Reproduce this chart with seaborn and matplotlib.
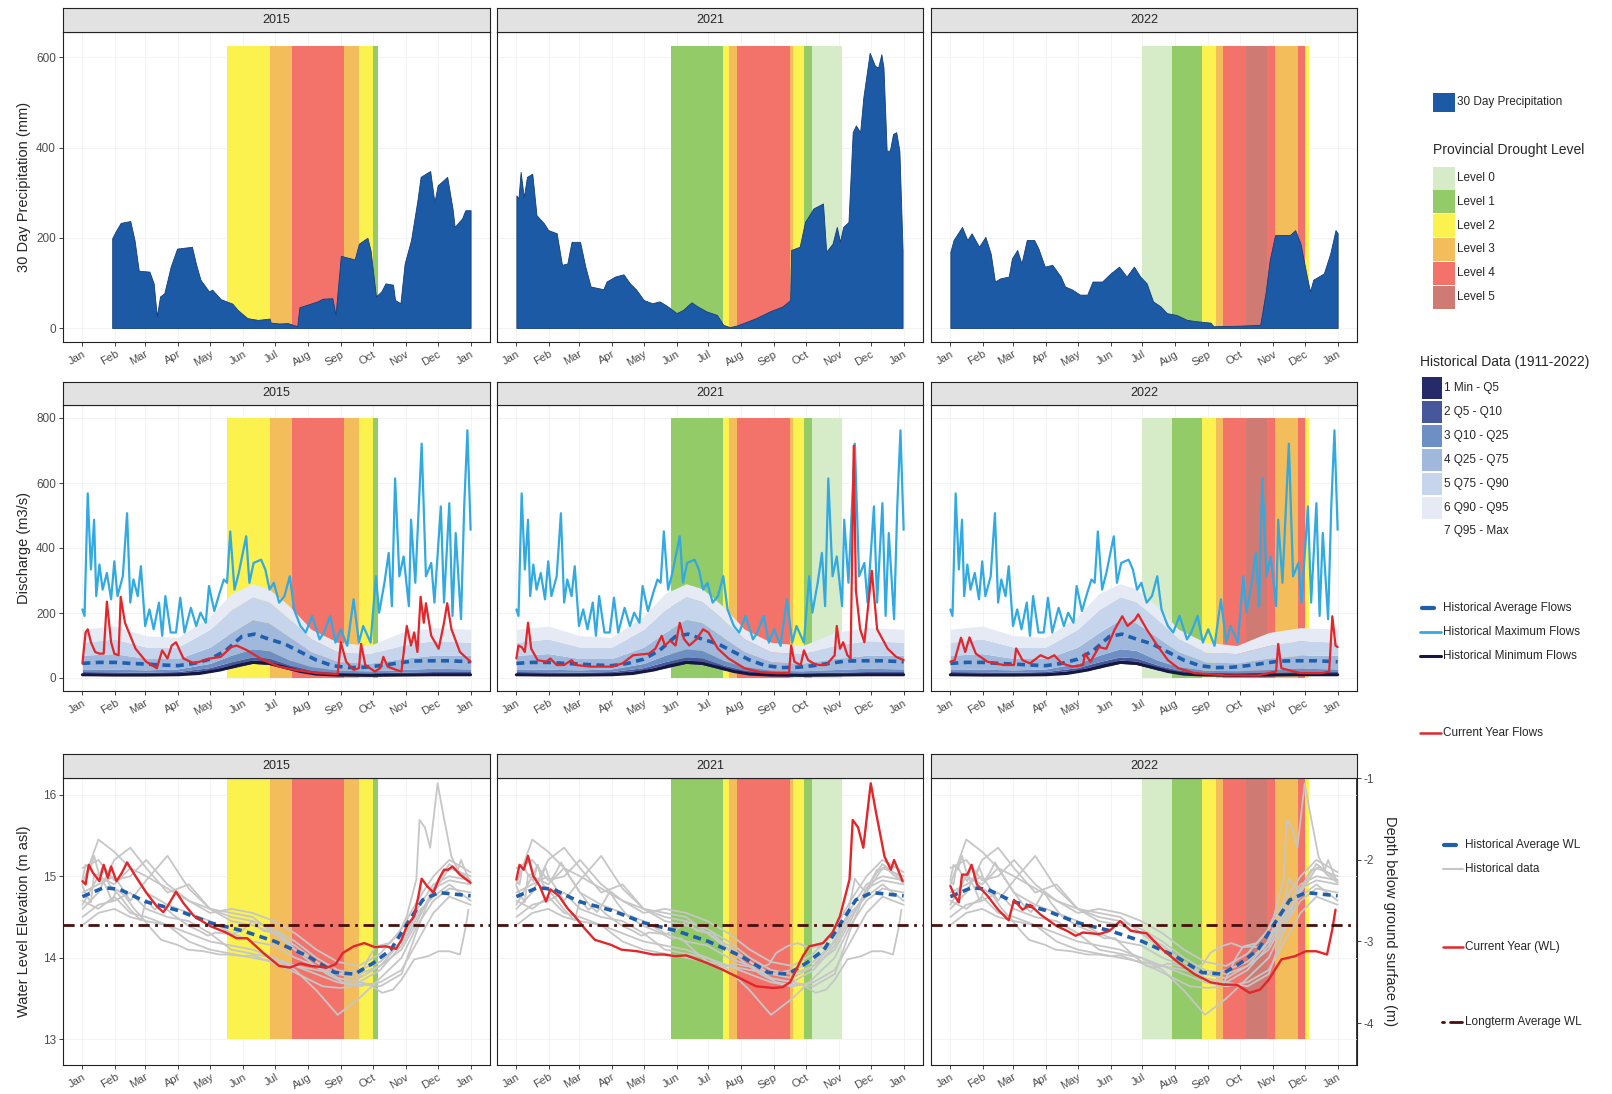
import numpy as np
import pandas as pd
import matplotlib
matplotlib.use("Agg")
import matplotlib.pyplot as plt
from matplotlib.patches import Rectangle
import seaborn as sns

sns.set_theme(style="ticks")
plt.rcParams['font.family'] = ['Liberation Sans', 'DejaVu Sans']
plt.rcParams['axes.unicode_minus'] = False

# ---------------------------------------------------------------- data
PANEL_YEARS = ["2015", "2021", "2022"]
MONTH_TICKS = [0, 31, 59, 90, 120, 151, 181, 212, 243, 273, 304, 334, 365]
MONTH_LABELS = ["Jan", "Feb", "Mar", "Apr", "May", "Jun", "Jul", "Aug",
                "Sep", "Oct", "Nov", "Dec", "Jan"]

DROUGHT_LEVELS = ["Level 0", "Level 1", "Level 2", "Level 3", "Level 4", "Level 5"]
DROUGHT_COLORS = ["#d6ecc9", "#93cb68", "#fbf24f", "#f4bd5b", "#f3736b", "#cf7b73"]

DR15_START = [136, 176, 197, 246, 260, 273]
DR15_END = [176, 197, 246, 260, 273, 278]
DR15_LEVEL = [2, 3, 4, 3, 2, 1]
DR21_START = [146, 195, 200, 208, 258, 261, 271, 279]
DR21_END = [195, 200, 208, 258, 261, 271, 279, 307]
DR21_LEVEL = [1, 2, 3, 4, 3, 2, 1, 0]
DR22_START = [181, 209, 237, 250, 257, 279, 298, 306, 328, 334]
DR22_END = [209, 237, 250, 257, 279, 298, 306, 328, 334, 338]
DR22_LEVEL = [0, 1, 2, 3, 4, 5, 4, 3, 4, 2]

# 30 day precipitation (mm)
P15_D = [28, 31, 36, 45, 49, 53, 63, 67, 70, 73, 77, 83, 89, 103, 107, 111, 119, 122, 130, 141,
         146, 155, 165, 176, 177, 185, 193, 202, 204, 221, 226, 235, 238, 243, 256, 260, 268, 271, 276, 281,
         285, 292, 294, 299, 303, 309, 315, 318, 327, 331, 334, 343, 348, 350, 357, 360, 365]
P15_V = [199, 213, 233, 237, 195, 127, 125, 99, 26, 70, 77, 136, 176, 180, 140, 107, 81, 85, 64, 54,
         40, 22, 18, 21, 12, 10, 11, 4, 46, 59, 65, 66, 29, 160, 152, 187, 200, 171, 70, 81,
         99, 96, 62, 55, 143, 195, 283, 335, 348, 279, 316, 335, 265, 224, 243, 261, 261]
P21_D = [0, 2, 4, 7, 10, 15, 19, 26, 30, 38, 43, 48, 52, 60, 65, 70, 82, 85, 93, 101,
         107, 113, 120, 128, 135, 142, 151, 157, 165, 170, 179, 189, 195, 201, 207, 214, 226, 239, 251, 258,
         259, 267, 272, 280, 289, 292, 298, 302, 305, 308, 313, 317, 320, 324, 327, 331, 333, 338, 341, 344,
         346, 349, 352, 355, 358, 361, 364]
P21_V = [294, 287, 346, 290, 335, 342, 250, 232, 217, 210, 140, 143, 191, 191, 136, 92, 86, 103, 114, 119,
         99, 85, 62, 55, 59, 49, 33, 40, 57, 49, 37, 29, 7, 2, 5, 11, 22, 37, 48, 62,
         173, 180, 235, 265, 276, 169, 187, 224, 191, 224, 235, 434, 449, 434, 511, 577, 610, 581, 577, 607,
         577, 393, 393, 430, 434, 393, 173]
P22_D = [0, 3, 11, 16, 20, 27, 33, 38, 42, 47, 55, 58, 63, 67, 72, 79, 83, 89, 96, 104,
         108, 115, 122, 129, 134, 143, 151, 159, 166, 173, 179, 185, 191, 198, 204, 213, 223, 232, 245, 248,
         270, 292, 297, 301, 306, 320, 325, 330, 336, 339, 342, 352, 358, 363, 365]
P22_V = [169, 195, 224, 195, 210, 180, 202, 165, 103, 110, 114, 154, 173, 143, 195, 195, 176, 136, 140, 114,
         92, 85, 74, 74, 103, 103, 121, 136, 114, 136, 114, 99, 59, 48, 33, 29, 18, 15, 12, 4,
         5, 7, 77, 151, 206, 206, 217, 187, 114, 81, 107, 121, 165, 217, 210]

# historical discharge statistics (m3/s)
Q_DAYS = [0, 30, 60, 90, 120, 140, 160, 175, 195, 215, 240, 270, 300, 330, 365]
Q_MIN = [10, 10, 10, 12, 18, 30, 45, 42, 25, 14, 10, 9, 10, 11, 10]
Q_05 = [16, 15, 14, 16, 25, 40, 55, 52, 32, 18, 13, 12, 14, 15, 16]
Q_10 = [20, 19, 18, 20, 32, 50, 65, 62, 40, 24, 17, 16, 18, 20, 20]
Q_25 = [28, 27, 25, 28, 45, 70, 90, 85, 55, 35, 24, 22, 26, 30, 28]
Q_75 = [70, 75, 60, 60, 95, 140, 180, 170, 125, 80, 50, 45, 60, 70, 70]
Q_90 = [110, 120, 95, 95, 150, 210, 250, 235, 180, 120, 80, 75, 100, 115, 110]
Q_95 = [150, 160, 130, 125, 190, 260, 290, 275, 220, 150, 110, 100, 140, 155, 150]
Q_BAND_LABELS = ["1 Min - Q5", "2 Q5 - Q10", "3 Q10 - Q25", "4 Q25 - Q75",
                 "5 Q75 - Q90", "6 Q90 - Q95", "7 Q95 - Max"]
Q_BAND_COLORS = ["#262a66", "#47579c", "#6d8fc4", "#9fb8dc", "#c6d5ec", "#e5eaf4", "#ffffff"]

MAXQ_D = [0, 2, 5, 8, 11, 13, 16, 19, 23, 27, 30, 33, 38, 42, 45, 48, 52, 55, 59, 63,
          67, 72, 75, 78, 83, 88, 92, 96, 102, 107, 111, 116, 119, 124, 129, 133, 136, 139, 143, 147,
          154, 157, 161, 168, 172, 176, 180, 185, 190, 195, 199, 205, 210, 216, 223, 227, 233, 238, 243, 249,
          255, 260, 264, 271, 276, 279, 284, 288, 291, 294, 298, 302, 307, 309, 313, 319, 323, 328, 331, 337,
          340, 345, 348, 351, 356, 359, 362, 365]
MAXQ_V = [211, 191, 568, 334, 487, 252, 349, 272, 323, 242, 359, 252, 313, 507, 232, 303, 252, 344, 160, 211,
          150, 232, 130, 252, 140, 140, 247, 140, 216, 160, 201, 170, 283, 206, 262, 303, 293, 451, 272, 323,
          436, 293, 354, 364, 334, 272, 293, 232, 252, 313, 211, 160, 140, 191, 119, 140, 191, 109, 150, 99,
          242, 109, 160, 109, 313, 201, 293, 385, 221, 614, 313, 374, 221, 487, 293, 721, 313, 354, 232, 528,
          232, 538, 191, 446, 181, 528, 762, 456]
MEANQ_D = [0, 15, 31, 45, 59, 75, 90, 105, 120, 135, 150, 162, 175, 190, 205, 220, 235, 250, 265, 280,
           295, 310, 325, 345, 365]
MEANQ_V = [45, 48, 48, 45, 43, 40, 38, 45, 58, 85, 128, 135, 120, 105, 80, 55, 38, 32, 33, 38,
           45, 52, 53, 53, 50]
MINQ_D = [0, 30, 60, 90, 110, 130, 145, 160, 175, 190, 205, 220, 240, 270, 300, 330, 365]
MINQ_V = [10, 9, 9, 10, 14, 25, 38, 48, 45, 33, 20, 12, 9, 8, 9, 10, 10]

# current year flows (m3/s)
F15_D = [0, 3, 5, 8, 12, 16, 20, 23, 27, 30, 34, 36, 40, 50, 60, 70, 75, 80, 84, 88,
         95, 105, 120, 130, 140, 145, 155, 170, 185, 200, 220, 240, 243, 248, 255, 260, 262, 266, 275, 280,
         283, 287, 295, 300, 305, 309, 312, 315, 318, 321, 323, 328, 335, 340, 343, 347, 355, 365]
F15_V = [45, 140, 150, 110, 80, 75, 75, 235, 110, 75, 70, 250, 170, 90, 50, 30, 85, 60, 100, 110,
         60, 45, 60, 65, 95, 100, 85, 55, 35, 25, 15, 12, 110, 50, 25, 30, 105, 40, 20, 30,
         65, 35, 25, 20, 160, 100, 140, 80, 250, 170, 230, 130, 90, 170, 230, 150, 80, 50]
F21_D = [0, 2, 5, 8, 11, 14, 20, 28, 32, 38, 45, 52, 56, 70, 90, 100, 110, 125, 131, 137,
         140, 145, 150, 154, 158, 163, 170, 176, 181, 190, 200, 215, 230, 245, 257, 259, 262, 268, 271, 275,
         280, 285, 292, 300, 302, 305, 308, 312, 315, 318, 320, 324, 328, 335, 340, 350, 358, 365]
F21_V = [60, 100, 95, 80, 170, 90, 55, 50, 60, 40, 40, 55, 40, 35, 35, 45, 70, 75, 90, 130,
         100, 115, 100, 170, 120, 100, 120, 150, 140, 90, 60, 30, 18, 15, 15, 100, 50, 40, 85, 55,
         45, 40, 40, 70, 160, 90, 110, 70, 60, 715, 270, 150, 110, 330, 150, 90, 65, 55]
F22_D = [0, 4, 10, 14, 18, 24, 35, 50, 60, 62, 68, 75, 85, 92, 98, 105, 115, 125, 127, 132,
         140, 147, 155, 162, 167, 174, 177, 185, 195, 205, 215, 230, 260, 290, 300, 307, 309, 312, 330, 350,
         357, 360, 363, 365]
F22_V = [50, 55, 124, 80, 125, 75, 50, 40, 40, 91, 55, 45, 70, 60, 70, 45, 35, 40, 75, 50,
         95, 90, 150, 190, 160, 180, 196, 150, 100, 55, 30, 15, 8, 8, 15, 20, 105, 30, 15, 15,
         20, 190, 100, 95]

# water levels (m asl)
GREY_DAYS = [0, 15, 30, 45, 60, 80, 100, 120, 140, 160, 180, 200, 220, 240, 260, 280, 300, 315, 330, 345, 365]
WL_2012 = [14.9, 15.45, 15.3, 15.1, 15.0, 14.85, 14.7, 14.6, 14.5, 14.45, 14.35, 14.2, 14.0, 13.85, 13.8, 13.9, 14.2, 14.6, 14.9, 15.0, 14.95]
WL_2013 = [14.6, 14.8, 15.2, 15.35, 15.1, 14.8, 14.9, 14.6, 14.55, 14.5, 14.3, 14.15, 13.95, 13.75, 13.7, 13.85, 14.15, 14.5, 14.8, 15.1, 15.0]
WL_2014 = [14.7, 14.6, 14.75, 14.55, 14.5, 14.4, 14.3, 14.2, 14.15, 14.1, 14.0, 13.85, 13.6, 13.3, 13.5, 13.75, 14.0, 14.4, 14.7, 14.85, 14.8]
WL_2016 = [14.5, 14.65, 14.7, 14.8, 14.6, 14.5, 14.45, 14.3, 14.1, 14.05, 14.0, 13.9, 13.8, 13.7, 13.65, 13.7, 13.85, 14.2, 14.55, 14.75, 14.65]
WL_2017 = [15.1, 15.2, 14.95, 15.0, 15.2, 14.9, 14.7, 14.55, 14.6, 14.55, 14.45, 14.3, 14.1, 13.95, 13.9, 14.05, 14.35, 14.7, 15.0, 15.2, 15.05]
WL_2018 = [14.8, 14.9, 15.0, 14.7, 14.95, 15.25, 14.85, 14.6, 14.45, 14.4, 14.3, 14.1, 13.95, 13.8, 13.75, 13.9, 14.1, 14.45, 14.85, 15.15, 14.95]
WL_2019 = [14.4, 14.55, 14.6, 14.5, 14.45, 14.4, 14.2, 14.1, 14.05, 14.0, 13.95, 13.9, 13.85, 13.8, 13.85, 13.95, 14.2, 14.55, 14.75, 14.9, 14.7]
WL_2020 = [14.65, 15.0, 14.9, 15.1, 14.8, 14.65, 14.55, 14.45, 14.3, 14.2, 14.15, 14.0, 13.9, 13.75, 13.7, 13.65, 13.8, 14.35, 14.85, 14.95, 14.9]

WL15_D = [0, 3, 6, 10, 16, 20, 24, 27, 32, 37, 42, 50, 60, 70, 76, 80, 88, 95, 105, 120,
          135, 145, 155, 170, 185, 195, 205, 215, 230, 238, 245, 255, 265, 275, 285, 295, 300, 305, 312, 316,
          319, 324, 330, 335, 340, 344, 348, 355, 365]
WL15_V = [14.94, 14.9, 15.14, 15.04, 14.94, 15.14, 14.98, 15.12, 14.94, 15.04, 15.17, 15.0, 14.8, 14.63, 14.56, 14.63, 14.81, 14.67, 14.51, 14.39,
          14.31, 14.24, 14.24, 14.06, 13.9, 13.88, 13.93, 13.9, 13.88, 13.92, 14.06, 14.14, 14.18, 14.13, 14.14, 14.11, 14.22, 14.39, 14.51, 14.76,
          14.97, 14.88, 14.8, 14.96, 15.08, 15.08, 15.12, 15.02, 14.92]
WL21_D = [0, 3, 7, 11, 16, 22, 28, 32, 40, 48, 55, 65, 74, 89, 99, 114, 129, 139, 150, 160,
          179, 195, 209, 226, 242, 251, 258, 270, 276, 289, 298, 305, 314, 317, 322, 327, 334, 339, 347, 353,
          356, 364]
WL21_V = [14.96, 15.14, 15.08, 15.25, 15.0, 14.88, 14.69, 14.84, 14.76, 14.61, 14.51, 14.35, 14.22, 14.16, 14.1, 14.08, 14.04, 14.04, 14.02, 14.03,
          13.94, 13.85, 13.76, 13.65, 13.63, 13.64, 13.7, 14.02, 14.14, 14.18, 14.31, 14.51, 14.96, 15.69, 15.6, 15.35, 16.14, 15.78, 15.24, 15.08,
          15.2, 14.94]
WL22_D = [0, 4, 8, 11, 16, 20, 25, 35, 45, 55, 60, 68, 75, 85, 100, 110, 118, 125, 140, 150,
          160, 170, 185, 200, 215, 230, 245, 258, 270, 282, 292, 300, 312, 325, 335, 345, 355, 360, 363]
WL22_V = [14.88, 14.76, 14.68, 15.02, 15.02, 15.14, 14.9, 14.76, 14.59, 14.46, 14.71, 14.59, 14.65, 14.53, 14.39, 14.33, 14.27, 14.31, 14.29, 14.33,
          14.45, 14.33, 14.3, 14.1, 13.94, 13.8, 13.7, 13.67, 13.67, 13.57, 13.61, 13.73, 13.98, 14.02, 14.08, 14.08, 14.04, 14.35, 14.59]

WL_AVG_D = [0, 20, 35, 59, 90, 120, 151, 181, 212, 237, 256, 274, 290, 304, 320, 335, 365]
WL_AVG_V = [14.75, 14.86, 14.84, 14.69, 14.58, 14.43, 14.33, 14.2, 14.02, 13.82, 13.8, 13.94, 14.1, 14.39, 14.71, 14.8, 14.76]
LONGTERM_AVG_WL = 14.4
DEPTH_OFFSET = 17.2

# -------------------------------------------------------------- assemble
DROUGHT = {"2015": (DR15_START, DR15_END, DR15_LEVEL),
           "2021": (DR21_START, DR21_END, DR21_LEVEL),
           "2022": (DR22_START, DR22_END, DR22_LEVEL)}
PRECIP = {"2015": (P15_D, P15_V), "2021": (P21_D, P21_V), "2022": (P22_D, P22_V)}
FLOWS = {"2015": (F15_D, F15_V), "2021": (F21_D, F21_V), "2022": (F22_D, F22_V)}
WL_ALL = {"2012": (GREY_DAYS, WL_2012), "2013": (GREY_DAYS, WL_2013), "2014": (GREY_DAYS, WL_2014),
          "2015": (WL15_D, WL15_V), "2016": (GREY_DAYS, WL_2016), "2017": (GREY_DAYS, WL_2017),
          "2018": (GREY_DAYS, WL_2018), "2019": (GREY_DAYS, WL_2019), "2020": (GREY_DAYS, WL_2020),
          "2021": (WL21_D, WL21_V), "2022": (WL22_D, WL22_V)}
Q_LEVELS = [Q_MIN, Q_05, Q_10, Q_25, Q_75, Q_90, Q_95]

PRECIP_COLOR = "#1d5aa6"
MAXQ_COLOR = "#31a9e1"
MINQ_COLOR = "#151842"
AVG_COLOR = "#1f5fad"
CUR_COLOR = "#e2262a"
GREY_COLOR = "#c6c6c6"
LT_COLOR = "#4a0e0e"
TICK_COLOR = "#4d4d4d"

# -------------------------------------------------------------- layout
W, H = 1612, 1094
fig = plt.figure(figsize=(W / 100, H / 100), dpi=100)
COL_PX = [(63, 490), (497, 923), (931, 1357)]
ROW_PX = [(8, 32, 342), (382, 405, 691), (754, 778, 1065)]
XLIM = (-18.25, 383.25)
YLIMS = [(-31, 656), (-40, 840), (12.685, 16.205)]
YTICKS = [[0, 200, 400, 600], [0, 200, 400, 600, 800], [13, 14, 15, 16]]
BAND_Y = [(0, 625), (0, 800), (13, 16.205)]
YLABELS = ["30 Day Precipitation (mm)", "Discharge (m3/s)", "Water Level Elevation (m asl)"]


def px_axes(x0, y0, x1, y1, **kw):
    return fig.add_axes([x0 / W, 1 - y1 / H, (x1 - x0) / W, (y1 - y0) / H], **kw)


def style_panel(ax, r, c):
    ax.set_xlim(*XLIM)
    ax.set_ylim(*YLIMS[r])
    ax.set_xticks(MONTH_TICKS)
    ax.set_xticklabels(MONTH_LABELS, rotation=30, ha="right", va="top",
                       rotation_mode="anchor", fontsize=8, color=TICK_COLOR)
    ax.set_yticks(YTICKS[r])
    if c == 0:
        ax.set_yticklabels([str(t) for t in YTICKS[r]], fontsize=8.5, color=TICK_COLOR)
        ax.tick_params(axis="y", left=True, length=3, width=0.6, pad=2)
    else:
        ax.tick_params(axis="y", left=False, labelleft=False)
    ax.tick_params(axis="x", bottom=True, length=3, width=0.6, pad=2)
    for sp in ax.spines.values():
        sp.set_visible(True)
        sp.set_color("#222222")
        sp.set_linewidth(0.8)
    ax.grid(True, color="#efefef", lw=0.5)
    ax.set_axisbelow(True)
    ax.set_xlabel("")
    ax.set_ylabel("")


def draw_drought(ax, year, r):
    y0, y1 = BAND_Y[r]
    for s, e, lev in zip(*DROUGHT[year]):
        ax.fill_between([s, e], [y0, y0], [y1, y1], color=DROUGHT_COLORS[lev], lw=0, zorder=1)


def line(ax, d, v, color, lw, z, ls="-"):
    sns.lineplot(x=d, y=v, ax=ax, color=color, linewidth=lw, linestyle=ls,
                 errorbar=None, legend=False, zorder=z)


for r, (s_top, p_top, p_bot) in enumerate(ROW_PX):
    for c, (x0, x1) in enumerate(COL_PX):
        year = PANEL_YEARS[c]
        ax = px_axes(x0, p_top, x1, p_bot)
        draw_drought(ax, year, r)
        if r == 0:
            d, v = PRECIP[year]
            ax.fill_between(d, 0, v, color=PRECIP_COLOR, lw=0.6, edgecolor="#123f7a", zorder=3)
        elif r == 1:
            for i in range(len(Q_LEVELS) - 1):
                ax.fill_between(Q_DAYS, Q_LEVELS[i], Q_LEVELS[i + 1],
                                color=Q_BAND_COLORS[i], lw=0, zorder=2)
            line(ax, MAXQ_D, MAXQ_V, MAXQ_COLOR, 1.6, 3)
            line(ax, MINQ_D, MINQ_V, MINQ_COLOR, 2.2, 3)
            line(ax, MEANQ_D, MEANQ_V, AVG_COLOR, 2.6, 4, ls=(0, (2.2, 1.5)))
            d, v = FLOWS[year]
            line(ax, d, v, CUR_COLOR, 1.6, 5)
        else:
            for yy, (d, v) in WL_ALL.items():
                if yy != year:
                    line(ax, d, v, GREY_COLOR, 1.3, 2)
            line(ax, WL_AVG_D, WL_AVG_V, AVG_COLOR, 2.6, 4, ls=(0, (2.2, 1.5)))
            d, v = WL_ALL[year]
            line(ax, d, v, CUR_COLOR, 1.7, 5)
            ax.axhline(LONGTERM_AVG_WL, color=LT_COLOR, lw=2, ls=(0, (4, 2, 1, 2)), zorder=6)
            if c == 2:
                sec = ax.secondary_yaxis("right", functions=(lambda y: y - DEPTH_OFFSET,
                                                             lambda dd: dd + DEPTH_OFFSET))
                sec.set_yticks([-1, -2, -3, -4])
                sec.set_yticklabels(["-1", "-2", "-3", "-4"])
                sec.tick_params(labelsize=8.5, labelcolor=TICK_COLOR, length=3, width=0.6, pad=2)
                sec.spines["right"].set_color("#222222")
        style_panel(ax, r, c)

        sx = px_axes(x0, s_top, x1, p_top)
        sx.set_facecolor("#e2e2e2")
        sx.set_xticks([])
        sx.set_yticks([])
        for sp in sx.spines.values():
            sp.set_visible(True)
            sp.set_color("#222222")
            sp.set_linewidth(0.8)
        sx.text(0.5, 0.5, year, ha="center", va="center", fontsize=9, transform=sx.transAxes)

    fig.text(24 / W, 1 - ((p_top + p_bot) / 2) / H, YLABELS[r], rotation=90,
             ha="center", va="center", fontsize=10.5)

fig.text(1390 / W, 1 - 921 / H, "Depth below ground surface (m)", rotation=270,
         ha="center", va="center", fontsize=10.5)

# -------------------------------------------------------------- legend
lg = fig.add_axes([0, 0, 1, 1], zorder=10)
lg.set_xlim(0, W)
lg.set_ylim(H, 0)
lg.axis("off")
lg.patch.set_alpha(0)


def key_rect(x, yc, w, h, color):
    lg.add_patch(Rectangle((x, yc - h / 2), w, h, facecolor=color, edgecolor="none"))


def key_text(x, yc, s, size=8.5):
    lg.text(x, yc, s, ha="left", va="center", fontsize=size)


key_rect(1433, 102, 22, 19, PRECIP_COLOR)
key_text(1457, 102, "30 Day Precipitation")

key_text(1433, 150, "Provincial Drought Level", size=10)
for i, (lab, col) in enumerate(zip(DROUGHT_LEVELS, DROUGHT_COLORS)):
    yc = 178 + i * 23.8
    key_rect(1433, yc, 22, 23, col)
    key_text(1457, yc, lab)

key_text(1420, 362, "Historical Data (1911-2022)", size=10)
for i, (lab, col) in enumerate(zip(Q_BAND_LABELS, Q_BAND_COLORS)):
    yc = 388 + i * 23.9
    key_rect(1422, yc, 20, 22, col)
    key_text(1444, yc, lab)

lg.plot([1422, 1434], [608, 608], color=AVG_COLOR, lw=3)
key_text(1443, 608, "Historical Average Flows")
lg.plot([1420, 1441], [632, 632], color=MAXQ_COLOR, lw=2)
key_text(1443, 632, "Historical Maximum Flows")
lg.plot([1420, 1441], [656, 656], color=MINQ_COLOR, lw=2.2)
key_text(1443, 656, "Historical Minimum Flows")
lg.plot([1420, 1441], [733, 733], color=CUR_COLOR, lw=1.8)
key_text(1443, 733, "Current Year Flows")

lg.plot([1444, 1456], [845, 845], color=AVG_COLOR, lw=3)
key_text(1465, 845, "Historical Average WL")
lg.plot([1443, 1463], [869, 869], color=GREY_COLOR, lw=1.5)
key_text(1465, 869, "Historical data")
lg.plot([1443, 1463], [947, 947], color=CUR_COLOR, lw=1.8)
key_text(1465, 947, "Current Year (WL)")
lg.plot([1442, 1444], [1022, 1022], color=LT_COLOR, lw=2)
lg.plot([1450, 1462], [1022, 1022], color=LT_COLOR, lw=2)
key_text(1465, 1022, "Longterm Average WL")

fig.savefig("out.png", dpi=100)
